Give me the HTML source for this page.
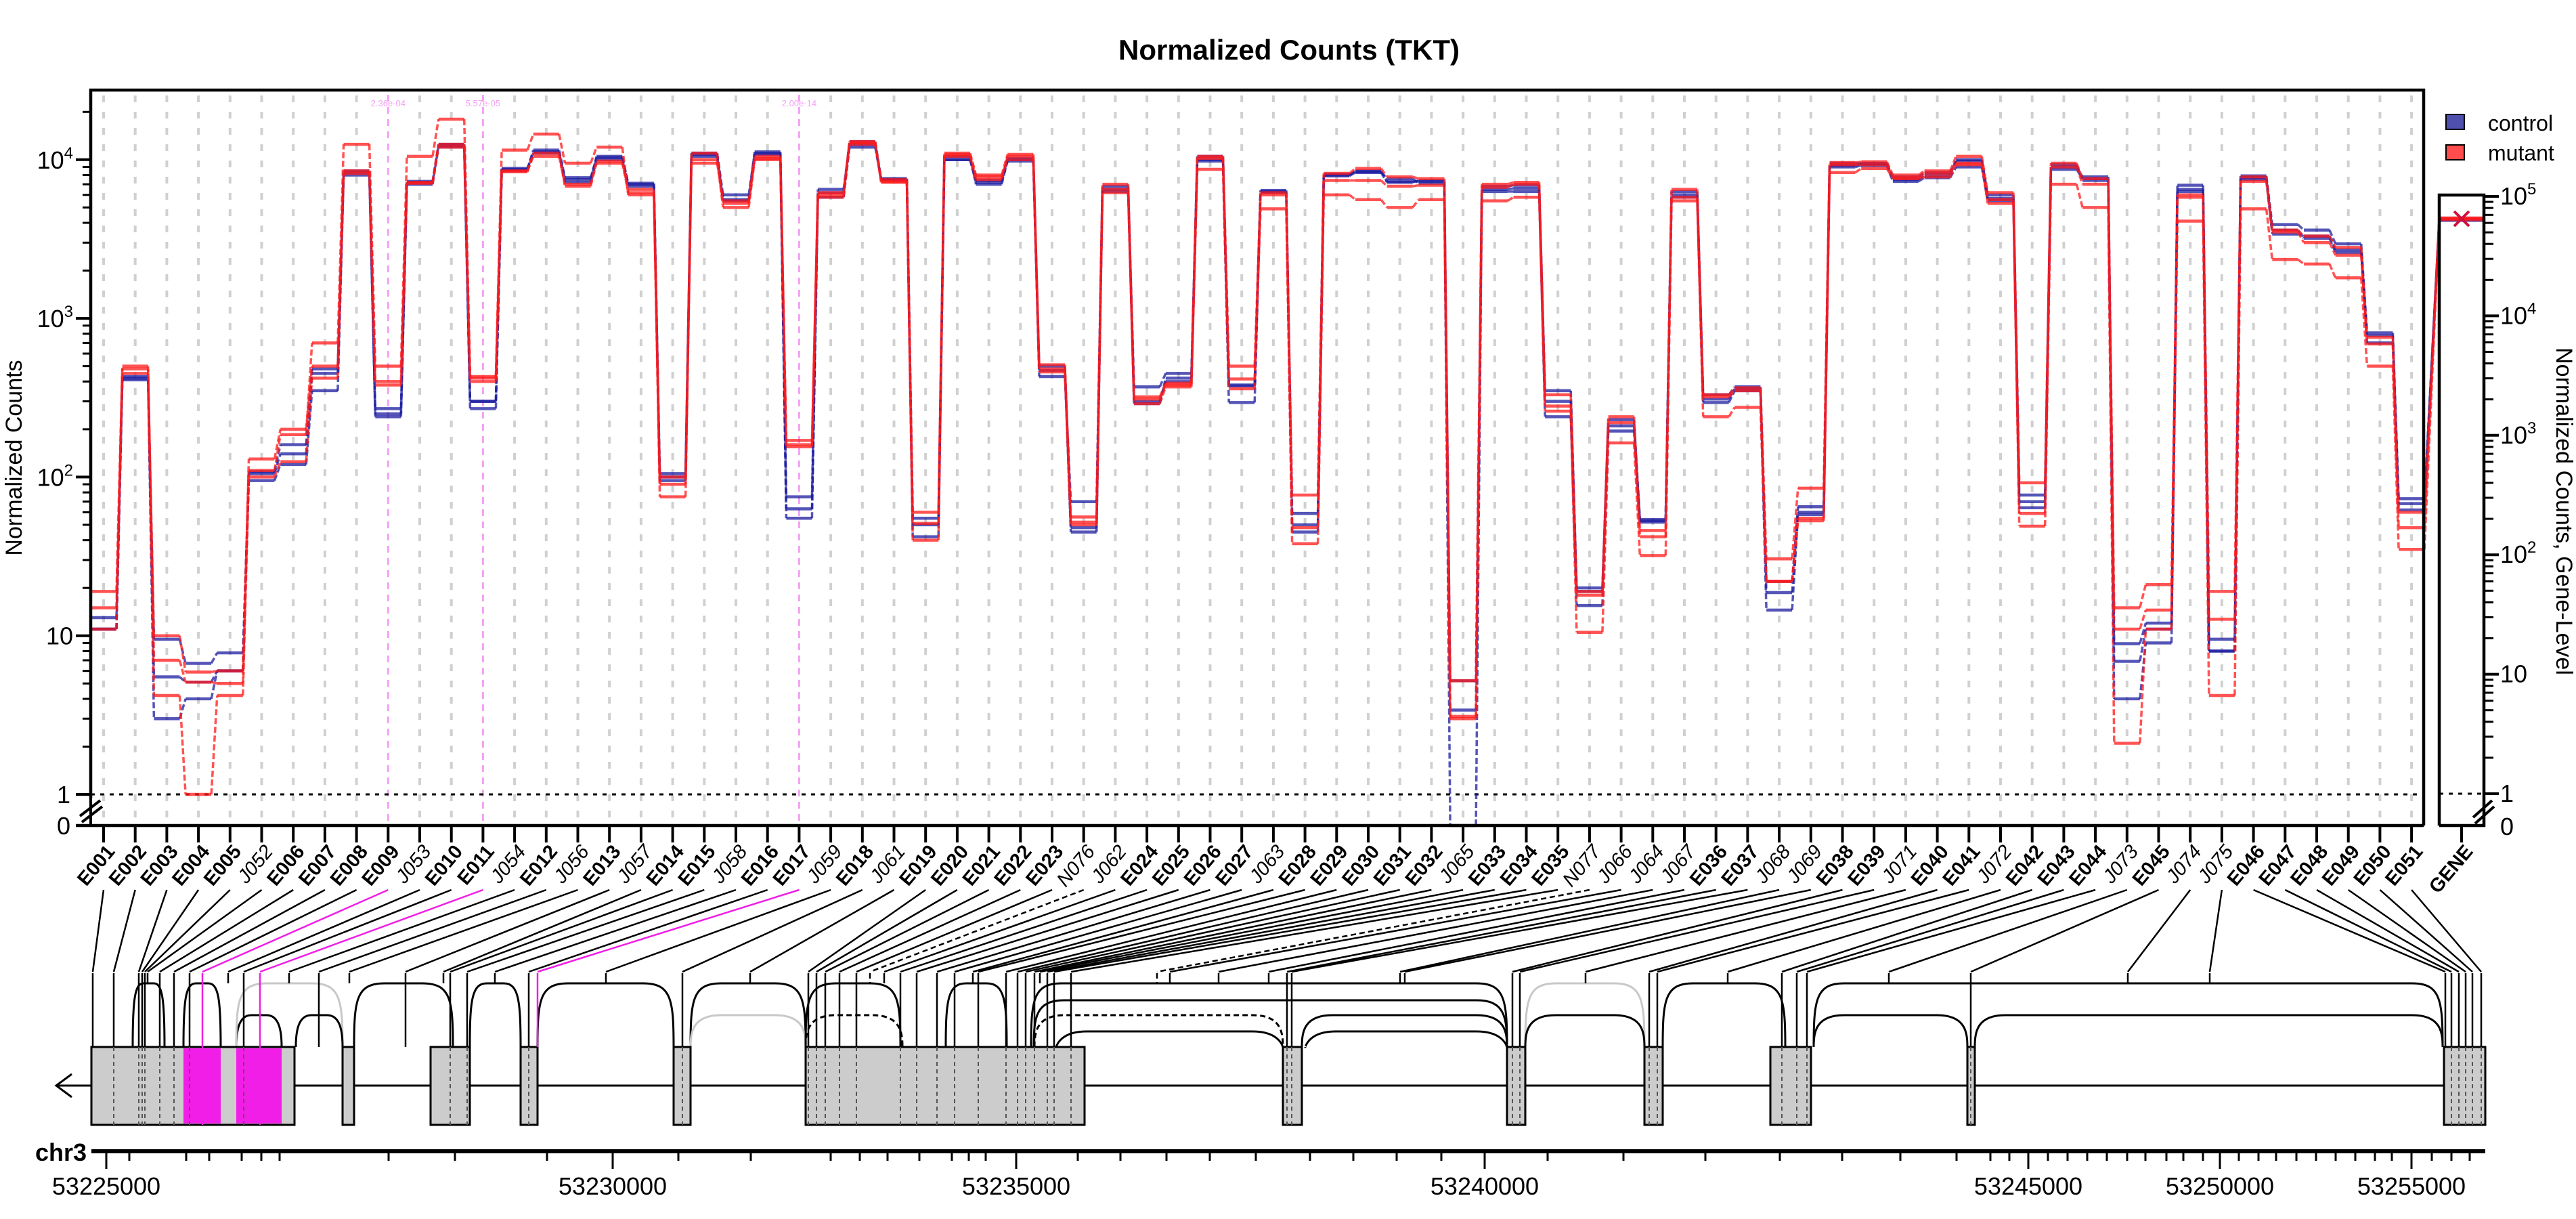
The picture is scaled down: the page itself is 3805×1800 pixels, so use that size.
<!DOCTYPE html>
<html><head><meta charset="utf-8"><style>
html,body{margin:0;padding:0;background:#fff;}
svg{display:block;font-family:"Liberation Sans",sans-serif;}
</style></head><body>
<svg id="chart" width="3805" height="1800" viewBox="0 0 3805 1800" xmlns="http://www.w3.org/2000/svg">
<rect x="0" y="0" width="3805" height="1800" fill="#fff"/>
<text x="1904" y="88" text-anchor="middle" font-size="42" font-weight="bold">Normalized Counts (TKT)</text>
<g id="grid"></g>
<g id="series"></g>
<g id="axes"></g>
<g id="gene"></g>
<g>
<rect x="3613" y="169" width="27" height="22" fill="#4f4fae" stroke="#000" stroke-width="2"/>
<text x="3675" y="193" font-size="32">control</text>
<rect x="3613" y="214" width="27" height="22" fill="#ff4c4c" stroke="#000" stroke-width="2"/>
<text x="3675" y="237" font-size="32">mutant</text>
</g>
<text x="0" y="0" font-size="34" text-anchor="middle" transform="translate(32,676) rotate(-90)">Normalized Counts</text>
<text x="0" y="0" font-size="34" text-anchor="middle" transform="translate(3776,755) rotate(90)">Normalized Counts, Gene-Level</text>
</svg>
<script>
const categories=["E001","E002","E003","E004","E005","J052","E006","E007","E008","E009","J053","E010","E011","J054","E012","J056","E013","J057","E014","E015","J058","E016","E017","J059","E018","J061","E019","E020","E021","E022","E023","N076","J062","E024","E025","E026","E027","J063","E028","E029","E030","E031","E032","J065","E033","E034","E035","N077","J066","J064","J067","E036","E037","J068","J069","E038","E039","J071","E040","E041","J072","E042","E043","E044","J073","E045","J074","J075","E046","E047","E048","E049","E050","E051"];
const ctrlA=[11,410,9.5,6.7,7.8,95,120,350,8000,240,7000,12000,270,8500,11000,7500,10500,7000,95,11000,6000,11000,55,5800,12000,7500,55,10000,7200,9800,430,70,6500,370,450,10500,375,6400,59,8000,8500,7300,7300,5.2,6800,6900,350,20,230,54,6300,330,370,22,65,9500,9500,7500,8000,10000,6000,77,9000,7800,8.9,12,6900,9.5,7900,3900,3600,2950,810,73];
const ctrlB=[13,420,5.5,5.1,6,105,140,450,8500,250,7200,12500,300,8700,11500,7700,10300,7100,105,10800,5500,11200,63,6500,12500,7400,42,10500,7000,10000,500,48,6800,290,420,10000,380,6300,50,8100,8400,7600,7100,3.4,6500,6600,300,19,210,53,6000,310,360,18.7,60,9200,9400,7800,8300,9800,5700,64,9300,7400,6.9,11,6500,8,7700,3600,3200,2600,780,68];
const ctrlC=[11,430,3.0,4.0,6,108,160,480,8300,270,7300,12300,300,8800,11200,7200,10000,6800,100,10500,5600,10800,75,6200,13000,7600,50,10000,7400,10200,470,45,6300,300,400,9800,295,6200,45,7900,8300,7200,7400,0,6300,6300,240,15.5,195,52,5800,295,350,14.5,58,9000,9200,7300,7700,9000,5500,70,8700,7600,4.0,9,6300,8,7500,3400,3300,2700,700,62];
const mutA=[15,450,10,5.9,6,110,185,700,12500,500,10500,18000,420,11500,14500,9500,12000,6000,75,10000,5000,10000,160,6000,13000,7300,60,11000,8000,10800,510,56,7000,320,390,10500,500,6000,77,8200,8800,7800,7600,5.2,7000,7200,330,19,240,46,6500,330,365,30.5,85,9600,9700,8000,8500,10500,6200,92,9500,7600,15,21,6000,19,7800,3600,3300,2800,760,60];
const mutB=[19,480,7,5.1,5,130,200,500,8500,400,7200,12500,400,8500,10500,7000,9500,6500,90,9500,5500,10500,170,5800,12500,7500,51,10500,7500,10500,480,50,6500,310,380,10200,415,4900,48,7400,7400,6800,6900,3.0,6700,7000,280,18,220,42,5800,320,350,22,55,9300,9300,7700,8200,9500,5300,59,9000,7000,11,14.5,5800,12.7,7300,3500,3000,2500,690,48];
const mutC=[11,500,4.2,1.0,4.2,100,125,420,8200,380,7100,12000,430,8400,11000,6800,9800,6200,100,11000,5300,10200,155,6200,12800,7200,40,10800,7800,10000,460,52,6200,290,370,8700,360,6200,38,6000,5600,5000,5600,3.1,5500,5800,260,10.5,164,32,5500,240,275,22,53,8300,8800,7600,7800,9300,5600,49,7000,5000,2.1,11,4100,4.2,4900,2350,2200,1800,500,35];
const geneCtrl=[63000,64000,65000];
const geneMut=[65000,66000,64000];
const sigCols=[9,12,22];
const sigLabels=["2.36e-04","5.57e-05","2.00e-14"];
const yTickVals=[10,100,1000,10000];
const geneTickVals=[1,10,100,1000,10000,100000];
const genomicTickLabels=["53225000","53230000","53235000","53240000","53245000","53250000","53255000"];

const NS="http://www.w3.org/2000/svg";
function mk(tag,attrs,parent){const e=document.createElementNS(NS,tag);for(const k in attrs)e.setAttribute(k,attrs[k]);parent.appendChild(e);return e;}
const grid=document.getElementById('grid'),series=document.getElementById('series'),axes=document.getElementById('axes'),gene=document.getElementById('gene');
const PL=134,PR=3580,PT=133,PB=1219;
function colX(i){return 153+i*46.7;}
function yMain(v){return v<=0?PB:1173-234.3*Math.log10(v);}
const GL=3603,GR=3669,GT=288;
function yGene(v){return v<=0?PB:1172-176.4*Math.log10(v);}
const HW=19;

categories.forEach((c,i)=>{
  const sig=sigCols.indexOf(i)>=0;
  const l=mk('line',{x1:colX(i),x2:colX(i),y1:sig?140:PT+8,y2:PB,stroke:sig?'#f5a0f5':'#d0d0d0','stroke-width':sig?3:4,'stroke-dasharray':sig?'10,8':'10,14'},grid);
  
  
});
sigCols.forEach((ci,k)=>{
  const t=mk('text',{x:colX(ci),y:157,'font-size':13,fill:'#f5a0f5','text-anchor':'middle'},grid);
  t.textContent=sigLabels[k];
  
  
});
const one=mk('line',{x1:PL,x2:PR,y1:yMain(1),y2:yMain(1),stroke:'#000','stroke-width':3,'stroke-dasharray':'6,8'},grid);


const one2=mk('line',{x1:GL,x2:GR,y1:yGene(1),y2:yGene(1),stroke:'#000','stroke-width':3,'stroke-dasharray':'6,8'},grid);



function drawSeries(vals,gv,color,name){
  const g=mk('g',{},series);
  
  
  let hd='',cd='';
  vals.forEach((v,i)=>{
    const x=colX(i),y=yMain(v);
    hd+=`M${x-HW},${y}L${x+HW},${y}`;
    if(i<vals.length-1){cd+=`M${x+HW},${y}L${colX(i+1)-HW},${yMain(vals[i+1])}`;}
    else{cd+=`M${x+HW},${y}L${GL},${yGene(gv)}`;}
  });
  hd+=`M${GL},${yGene(gv)}L${GR},${yGene(gv)}`;
  const p1=mk('path',{d:cd,stroke:color,'stroke-width':3.5,fill:'none','stroke-dasharray':'9,4','stroke-opacity':0.75},g);
  
  
  const p2=mk('path',{d:hd,stroke:color,'stroke-width':4.5,fill:'none','stroke-opacity':0.75},g);
  
  
}
drawSeries(ctrlA,geneCtrl[0],'#1c1ca0','control-sample-1');
drawSeries(ctrlB,geneCtrl[1],'#1c1ca0','control-sample-2');
drawSeries(ctrlC,geneCtrl[2],'#1c1ca0','control-sample-3');
drawSeries(mutA,geneMut[0],'#ff1a1a','mutant-sample-1');
drawSeries(mutB,geneMut[1],'#ff1a1a','mutant-sample-2');
drawSeries(mutC,geneMut[2],'#ff1a1a','mutant-sample-3');
const gm=(geneMut.reduce((a,b)=>a+b,0))/geneMut.length, gyy=yGene(gm), gx=(GL+GR)/2;
const xm=mk('path',{d:`M${gx-11},${gyy-11}L${gx+11},${gyy+11}M${gx-11},${gyy+11}L${gx+11},${gyy-11}`,stroke:'#d0103a','stroke-width':4},series);



const box=mk('path',{d:`M${PL},${PB-40}L${PL},${PT}L${PR},${PT}L${PR},${PB}M112,${PB}L${PR},${PB}`,stroke:'#000','stroke-width':4.5,fill:'none'},axes);


const brk=mk('path',{d:`M${PL},${PB-40}L${PL},${PB}M118,1205L148,1182M121,1214L151,1191`,stroke:'#000','stroke-width':4,fill:'none'},axes);


for(let d=0;d<5;d++){for(let m=1;m<10;m++){const v=Math.pow(10,d)*m;if(v>25000)break;const y=yMain(v);
  const t=mk('line',{x1:m===1?112:122,x2:PL,y1:y,y2:y,stroke:'#000','stroke-width':m===1?4:3},axes);
  
  }}
const z0=mk('line',{x1:112,x2:PL,y1:PB,y2:PB,stroke:'#000','stroke-width':4},axes);


function powLabel(x,y,v,parent,anchorEnd,name){
  const t=mk('text',{x:x,y:y,'font-size':36,'text-anchor':anchorEnd?'end':'start'},parent);
  
  
  const e=Math.round(Math.log10(v));
  if(e<=1){t.textContent=String(v);}else{
    t.textContent='10';
    const s=document.createElementNS(NS,'tspan');s.setAttribute('font-size','24');s.setAttribute('dy','-15');s.textContent=String(e);t.appendChild(s);}
  return t;
}
yTickVals.forEach(v=>{powLabel(108,yMain(v)+13,v,axes,true,'y-tick-label');});
const l1=mk('text',{x:104,y:yMain(1)+13,'font-size':36,'text-anchor':'end'},axes);l1.textContent='1';


const l0=mk('text',{x:104,y:PB+13,'font-size':36,'text-anchor':'end'},axes);l0.textContent='0';


categories.forEach((c,i)=>{
  const x=colX(i);
  const t=mk('line',{x1:x,x2:x,y1:PB,y2:1244,stroke:'#000','stroke-width':4},axes);
  
  
  const isE=c[0]==='E';
  const lb=mk('text',{x:0,y:0,'font-size':29,'text-anchor':'end','font-weight':isE?'bold':'normal','font-style':isE?'normal':'italic',transform:`translate(${x+18},${1258}) rotate(-50)`},axes);
  lb.textContent=c;
  
  
});
const gbox=mk('path',{d:`M${GL},${PB}L${GL},${GT}L${GR},${GT}L${GR},${PB}L${GL},${PB}`,stroke:'#000','stroke-width':4.5,fill:'none'},axes);


for(let d=0;d<6;d++){for(let m=1;m<10;m++){const v=Math.pow(10,d)*m;if(v>100000)break;const y=yGene(v);
  const t=mk('line',{x1:GR,x2:GR+(m===1?22:14),y1:y,y2:y,stroke:'#000','stroke-width':m===1?4:3},axes);
  
  }}
geneTickVals.forEach(v=>{if(v>=100)powLabel(GR+24,yGene(v)+12,v,axes,false,'gene-y-tick-label');else{const t=mk('text',{x:GR+24,y:yGene(v)+12,'font-size':36},axes);t.textContent=String(v);
  
  }});
const g0=mk('text',{x:GR+24,y:PB+14,'font-size':36},axes);g0.textContent='0';


const gbrk=mk('path',{d:`M${GR-16},1207L${GR+12},1182M${GR-13},1216L${GR+15},1191`,stroke:'#000','stroke-width':4,fill:'none'},axes);


const gt=mk('line',{x1:gx,x2:gx,y1:PB,y2:1244,stroke:'#000','stroke-width':4},axes);


const gl=mk('text',{x:0,y:0,'font-size':29,'font-weight':'bold','text-anchor':'end',transform:`translate(${gx+18},1258) rotate(-50)`},axes);gl.textContent='GENE';



const featX=[137,168,205,210,214,218,236,257,280,299,337,360,384,427,471,516,599,655,665,690,731,781,794,895,1008,1108,1194,1206,1219,1240,1265,1285,1306,1330,1354,1384,1410,1437,1445,1486,1503,1515,1528,1536,1547,1557,1582,1709,1728,1800,1874,1901,1908,2068,2075,2234,2245,2342,2436,2448,2552,2632,2654,2669,2790,2911,3143,3264,3612,3621,3632,3642,3652,3665];
const exonBlocks=[[135,435],[506,523],[636,694],[769,794],[995,1020],[1190,1602],[1895,1923],[2226,2253],[2429,2456],[2615,2675],[2906,2917],[3610,3671]];
const magentaBlocks=[[271,326],[349,416]];
const arcs=[[196,243,1452,'s'],[271,326,1452,'s'],[349,416,1499,'s'],[349,506,1452,'g'],[437,506,1499,'s'],[523,669,1452,'s'],[694,769,1452,'s'],[794,995,1452,'s'],[1020,1190,1452,'s'],[1020,1190,1499,'g'],[1190,1330,1452,'s'],[1190,1333,1499,'d'],[1397,1487,1452,'s'],[1523,2226,1452,'s'],[1527,2226,1477,'s'],[1528,1895,1499,'d'],[1560,1895,1523,'s'],[1923,2226,1499,'s'],[1928,2226,1523,'s'],[2253,2429,1452,'g'],[2253,2429,1499,'s'],[2456,2637,1452,'s'],[2679,3608,1452,'s'],[2679,2906,1499,'s'],[2917,3608,1499,'s']];
const EX_T=1546,EX_B=1661,INT_Y=1603;
function inBlock(x){return exonBlocks.some(b=>x>b[0]+2&&x<b[1]-2);}
const intron=mk('path',{d:`M83,${INT_Y}L3671,${INT_Y}M106,1586L83,${INT_Y}L106,1620`,stroke:'#000','stroke-width':3,fill:'none'},gene);


arcs.forEach(a=>{
  const [x1,x2,top,st]=a;const r=Math.min(45,(x2-x1)/3);
  const d=`M${x1},${EX_T}C${x1},${top+25} ${x1+3},${top} ${x1+r},${top}L${x2-r},${top}C${x2-3},${top} ${x2},${top+25} ${x2},${EX_T}`;
  const p=mk('path',{d:d,fill:'none',stroke:st==='g'?'#c8c8c8':'#000','stroke-width':3,'stroke-dasharray':st==='d'?'8,5':'none'},gene);
  
  
});
exonBlocks.forEach(b=>{
  const r=mk('rect',{x:b[0],y:EX_T,width:b[1]-b[0],height:EX_B-EX_T,fill:'#cccccc',stroke:'#000','stroke-width':3},gene);
  
  
});
magentaBlocks.forEach(b=>{
  const r=mk('rect',{x:b[0],y:EX_T+2,width:b[1]-b[0],height:EX_B-EX_T-4,fill:'#f01ee6'},gene);
  
  
});
categories.forEach((c,i)=>{
  const sig=sigCols.indexOf(i)>=0, isE=c[0]==='E', isN=c[0]==='N';
  const col=sig?'#f01ee6':'#000';
  const x=colX(i),g=featX[i];
  let d=`M${x},1314L${g},1435`;
  d+=`M${g},1437L${g},${isE?EX_T:1452}`;
  const p=mk('path',{d:d,stroke:col,'stroke-width':2.5,fill:'none','stroke-dasharray':isN?'8,5':'none'},gene);
  
  
  if(isE&&inBlock(g)&&!sig){const dl=mk('line',{x1:g,x2:g,y1:EX_T,y2:EX_B,stroke:'#555','stroke-width':2,'stroke-dasharray':'6,5'},gene);
    
    }
  if(sig&&inBlock(g)){const ml=mk('line',{x1:g,x2:g,y1:EX_T,y2:EX_B,stroke:'#f01ee6','stroke-width':2},gene);
    
    }
});
const genomicMajorX=[157,905,1501,2193,2996,3279,3562];
const minorTickX=[191,275,309,357,386,413,574,672,808,1002,1109,1227,1270,1311,1358,1406,1431,1456,1592,1655,1723,1787,1855,1935,1999,2063,2129,2286,2398,2519,2629,2721,2807,2890,2940,2968,3025,3054,3083,3112,3142,3169,3200,3225,3254,3307,3336,3362,3392,3421,3450,3479,3508,3533,3592,3621,3648];
const ax=mk('line',{x1:135,x2:3671,y1:1700,y2:1700,stroke:'#000','stroke-width':6},gene);


minorTickX.forEach(x=>{const t=mk('line',{x1:x,x2:x,y1:1700,y2:1714,stroke:'#000','stroke-width':3},gene);
  
  });
genomicTickLabels.forEach((lab,k)=>{const x=genomicMajorX[k];
  const t=mk('line',{x1:x,x2:x,y1:1700,y2:1726,stroke:'#000','stroke-width':3},gene);
  
  
  const tx=mk('text',{x:x,y:1764,'font-size':36,'text-anchor':'middle'},gene);tx.textContent=lab;
  
  });
const chr=mk('text',{x:128,y:1714,'font-size':36,'font-weight':'bold','text-anchor':'end'},gene);chr.textContent='chr3';


</script>
</body></html>
